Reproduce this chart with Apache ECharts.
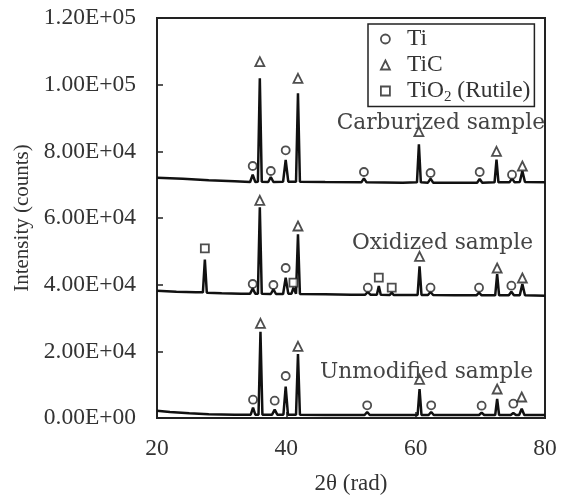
<!DOCTYPE html>
<html>
<head>
<meta charset="utf-8">
<script src="https://cdn.jsdelivr.net/npm/echarts@6/dist/echarts.min.js"></script>
<style>html,body{margin:0;padding:0;background:#fff}#c{width:564px;height:500px}</style>
</head>
<body>
<div id="c"></div>
<script>
// [2θ (deg), intensity (counts)]
var carburized = [
[20,72100],[24,71800],[28,71300],[32,71000],[34.4,70800],[34.8,73000],[35.2,70800],[35.6,70900],[35.9,101900],[36.2,70900],[37.2,70800],[37.6,72300],[38.0,70800],[39.5,70900],[39.9,77400],[40.3,70900],[41.5,70900],[41.8,97400],[42.1,70900],[46,70800],[51.6,70700],[52.0,71900],[52.4,70700],[58,70600],[60.2,70700],[60.5,82100],[60.8,70700],[61.9,70600],[62.3,71800],[62.7,70600],[66,70600],[69.5,70600],[69.9,71700],[70.3,70600],[72.2,70700],[72.5,77500],[72.8,70700],[74.5,70700],[74.9,71900],[75.3,70700],[76.1,70800],[76.5,74100],[76.9,70800],[80,70700]
];
var oxidized = [
[20,38200],[23,37900],[26,37700],[27.1,37700],[27.4,47500],[27.7,37600],[30,37400],[33,37300],[34.4,37300],[34.8,38800],[35.2,37300],[35.6,37300],[35.9,63200],[36.2,37300],[37.6,37200],[38.0,38600],[38.4,37200],[39.5,37200],[39.9,42100],[40.3,37300],[40.8,37300],[41.1,39100],[41.5,37300],[41.8,55100],[42.1,37200],[46,37100],[50,37000],[52.2,37000],[52.6,37800],[53.0,37000],[54.0,37000],[54.3,39600],[54.6,37000],[56.0,36900],[56.3,37600],[56.6,36900],[60.3,36900],[60.6,45500],[60.9,36900],[61.9,36900],[62.3,37800],[62.7,36900],[66,36800],[69.4,36800],[69.8,37600],[70.2,36800],[72.3,36800],[72.6,43200],[72.9,36800],[74.4,36800],[74.8,37900],[75.2,36800],[76.1,36800],[76.5,40200],[76.9,36800],[80,36700]
];
var unmodified = [
[20,2200],[22,1800],[25,1400],[28,1100],[32,1000],[34.5,1000],[34.85,3100],[35.2,1000],[35.7,1000],[36.0,25900],[36.3,1000],[37.8,1000],[38.2,2500],[38.6,1000],[39.55,1000],[39.9,9400],[40.25,1000],[41.5,1000],[41.8,19200],[42.1,1000],[46,900],[52.1,900],[52.5,1800],[52.9,900],[60.3,900],[60.6,8700],[60.9,900],[62.0,900],[62.4,1800],[62.8,900],[69.8,900],[70.2,1600],[70.6,900],[72.3,900],[72.6,5700],[72.9,900],[74.7,900],[75.1,1500],[75.5,900],[76.0,900],[76.4,2800],[76.8,900],[80,900]
];
// phase markers [2θ, marker height]
var tiMarks = [
[34.8,75600],[37.6,74100],[39.9,80300],[52.0,73800],[62.3,73500],[69.9,73800],[74.9,73000],
[34.8,40200],[38.0,39900],[39.9,45000],[52.6,39100],[62.3,39100],[69.8,39100],[74.8,39700],
[34.85,5500],[38.2,5200],[39.9,12600],[52.5,3800],[62.4,3800],[70.2,3700],[75.1,4300]
];
var ticMarks = [
[35.9,106900],[41.8,101900],[60.5,85900],[72.5,80000],[76.5,75600],
[35.9,65300],[41.8,57600],[60.6,48500],[72.6,45000],[76.5,42000],
[36.0,28400],[41.8,21500],[60.6,11600],[72.6,8700],[76.4,6300]
];
var rutileMarks = [[27.4,50900],[41.1,40600],[54.3,42100],[56.3,39100]];
var seriesNames = ['Ti','TiC','TiO2 (Rutile)'];
var sampleLabels = ['Carburized sample','Oxidized sample','Unmodified sample'];
var xTicks = [20,40,60,80];

var SERIF = '"Liberation Serif", "Times New Roman", serif';
var LABF = '"DejaVu Serif", serif';
function fmt(v){
  if (v === 0) return '0.00E+00';
  var e = Math.floor(Math.log10(v) + 1e-9);
  var m = v / Math.pow(10, e);
  return m.toFixed(2) + 'E+' + (e < 10 ? '0' : '') + e;
}
var chart = echarts.init(document.getElementById('c'), null, {renderer:'canvas'});
var lineStyle = {color:'#111', width:2.5};
var markStyle = {color:'#fff', borderColor:'#222', borderWidth:1.8};
chart.setOption({
  animation:false,
  backgroundColor:'#fff',
  grid:{left:157, right:19, top:18, bottom:76, show:true, borderColor:'#222', borderWidth:2},
  xAxis:{type:'value', min:20, max:80, interval:20,
    name:'2θ (rad)', nameLocation:'middle', nameGap:54,
    nameTextStyle:{fontFamily:SERIF, fontSize:23, color:'#333'},
    axisLine:{lineStyle:{color:'#222', width:2}},
    axisTick:{inside:true, length:6, lineStyle:{color:'#222', width:1.5}},
    axisLabel:{fontFamily:SERIF, fontSize:23.5, color:'#333', margin:19,
      formatter:function(v){return xTicks.indexOf(v)>=0 ? String(v) : '';}},
    splitLine:{show:false}},
  yAxis:{type:'value', min:0, max:120000, interval:20000,
    name:'Intensity (counts)', nameLocation:'middle', nameGap:121,
    nameTextStyle:{fontFamily:SERIF, fontSize:21, color:'#333'},
    axisLine:{lineStyle:{color:'#222', width:2}},
    axisTick:{inside:true, length:6, lineStyle:{color:'#222', width:1.5}},
    axisLabel:{fontFamily:SERIF, fontSize:23.5, color:'#333', margin:21, formatter:fmt},
    splitLine:{show:false}},
  legend:{data:seriesNames, orient:'vertical', left:368, top:24,
    borderColor:'#222', borderWidth:1.5, padding:[2,4,2,12], itemGap:0,
    itemWidth:9, itemHeight:9, itemStyle:{color:'#fff', borderColor:'#222', borderWidth:1.8},
    textStyle:{fontFamily:SERIF, fontSize:23.5, color:'#333', lineHeight:26, padding:[0,0,0,12],
      rich:{t:{fontFamily:SERIF, fontSize:23.5, color:'#333', lineHeight:26},
            s:{fontFamily:SERIF, fontSize:15, color:'#333', padding:[12,0,0,0]}}},
    formatter:function(n){ return n === 'TiO2 (Rutile)' ? '{t|TiO}{s|2}{t| (Rutile)}' : '{t|'+n+'}'; }},
  graphic:[
    {type:'text', right:19, top:112, z:10, style:{text:sampleLabels[0], fontFamily:LABF, fontSize:21.7, fill:'#444'}},
    {type:'text', right:31, top:232, z:10, style:{text:sampleLabels[1], fontFamily:LABF, fontSize:21.7, fill:'#444'}},
    {type:'text', right:31, top:361, z:10, style:{text:sampleLabels[2], fontFamily:LABF, fontSize:21.7, fill:'#444'}}
  ],
  series:[
    {type:'line', data:carburized, showSymbol:false, lineStyle:lineStyle, silent:true, z:2},
    {type:'line', data:oxidized, showSymbol:false, lineStyle:lineStyle, silent:true, z:2},
    {type:'line', data:unmodified, showSymbol:false, lineStyle:lineStyle, silent:true, z:2},
    {type:'scatter', name:seriesNames[0], data:tiMarks, symbol:'circle', symbolSize:8, itemStyle:markStyle, z:5},
    {type:'scatter', name:seriesNames[1], data:ticMarks, symbol:'triangle', symbolSize:9, itemStyle:markStyle, z:5},
    {type:'scatter', name:seriesNames[2], data:rutileMarks, symbol:'rect', symbolSize:8, itemStyle:markStyle, z:5}
  ]
});
</script>
</body>
</html>
